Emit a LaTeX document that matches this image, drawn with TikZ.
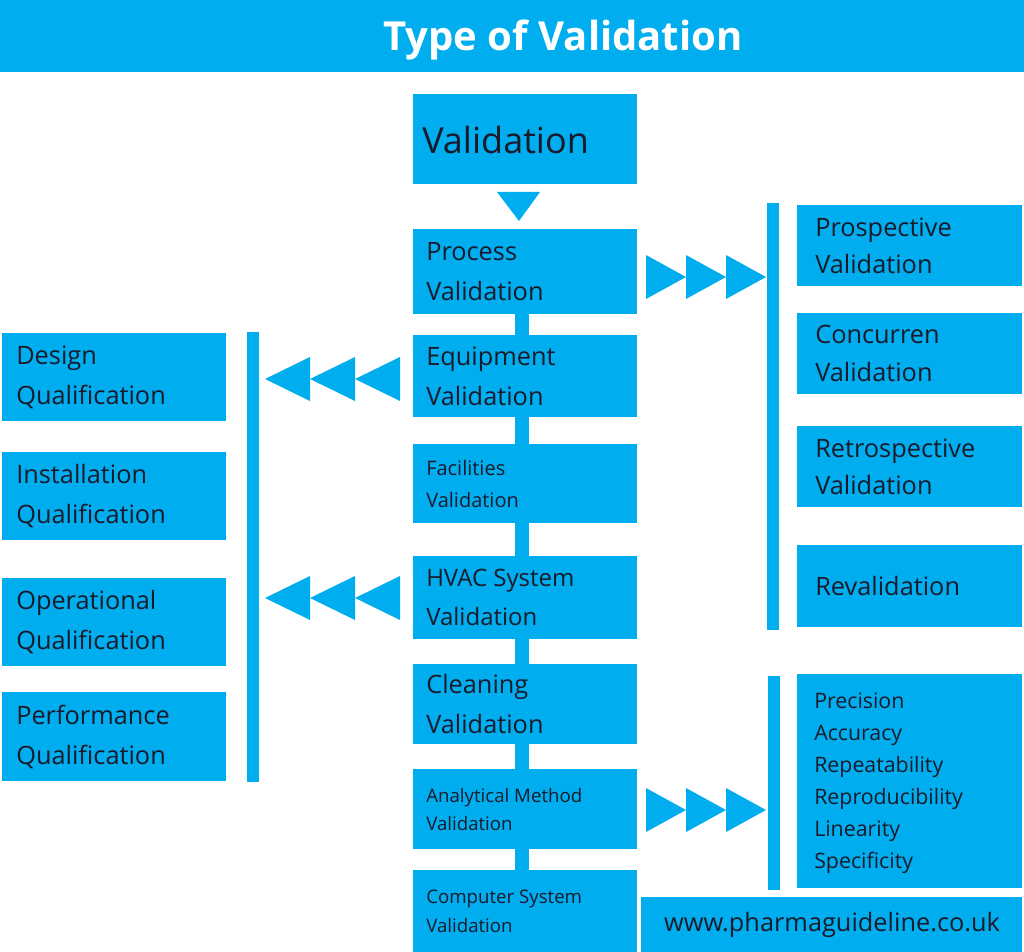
\documentclass[tikz,border=0pt]{standalone}
\usepackage{fontspec}
\setmainfont{Open Sans}
\begin{document}
\begin{tikzpicture}[x=0.75pt,y=-0.75pt,
  box/.style={fill=blu,draw=none},
  lbl/.style={anchor=west,align=left,text=txt,font=\fontsize{19}{23}\selectfont,inner sep=0pt},
  tri/.style={fill=blu,draw=none}]
\definecolor{blu}{HTML}{00AEEF}
\definecolor{txt}{HTML}{1A1A2A}
\useasboundingbox (0,0) rectangle (1024,952);
\fill[white] (0,0) rectangle (1024,952);
% title
\fill[box] (0,0) rectangle (1024,72);
\node[text=white,font=\bfseries\fontsize{30}{34}\selectfont] (title) at (563,40) {Type of Validation};
% spine
\fill[box] (515,300) rectangle (529,880);
% validation
\fill[box] (413,94) rectangle (637,184);
\node[lbl,font=\fontsize{27}{30}\selectfont] (val) at (422,140) {Validation};
\fill[tri] (497,192) -- (540,192) -- (519,221) -- cycle;
% center boxes
\foreach \a/\b/\t/\n/\s/\l in {229/314/{Process\\Validation}/pv/19/30,335/417/{Equipment\\Validation}/ev/19/30,444/523/{Facilities\\Validation}/fv/15/24,556/639/{HVAC System\\Validation}/hv/18/29,664/744/{Cleaning\\Validation}/cv/19/30,769/849/{Analytical Method\\Validation}/av/14/21,870/952/{Computer System\\Validation}/csv/14/22}{
  \fill[box] (413,\a) rectangle (637,\b);
  \node[lbl,font=\fontsize{\s}{\l}\selectfont] (\n) at (426,{(\a+\b)/2}) {\t};
}
% bars
\fill[box] (767,203) rectangle (779,630);
\fill[box] (768,676) rectangle (780,890);
\fill[box] (247,332) rectangle (259,782);
\foreach \a/\b/\t/\n in {205/286/{Prospective\\Validation}/r1,313/394/{Concurren\\Validation}/r2,426/507/{Retrospective\\Validation}/r3,545/627/{Revalidation}/r4}{
  \fill[box] (797,\a) rectangle (1022,\b);
  \node[lbl,font=\fontsize{19}{28}\selectfont] (\n) at (815,{(\a+\b)/2}) {\t};
}
\foreach \a/\b/\t/\n in {333/421/{Design\\Qualification}/l1,452/540/{Installation\\Qualification}/l2,578/666/{Operational\\Qualification}/l3,692/781/{Performance\\Qualification}/l4}{
  \fill[box] (2,\a) rectangle (226,\b);
  \node[lbl,font=\fontsize{19}{30}\selectfont] (\n) at (16,{(\a+\b)/2}) {\t};
}
\fill[box] (797,674) rectangle (1022,888);
\node[lbl,font=\fontsize{16}{24}\selectfont] (list) at (814,783) {Precision\\Accuracy\\Repeatability\\Reproducibility\\Linearity\\Specificity};
% arrows
\foreach \y in {277,810}{
 \foreach \x in {646,686,726}{
  \fill[tri] (\x,\y-22) -- (\x+40,\y) -- (\x,\y+22) -- cycle;}}
\foreach \y in {379,598}{
 \foreach \x in {400,355,310}{
  \fill[tri] (\x,\y-22) -- (\x-45,\y) -- (\x,\y+22) -- cycle;}}
% website
\fill[box] (641,897) rectangle (1022,952);
\node[text=txt,font=\fontsize{19}{22}\selectfont] (web) at (832,925) {www.pharmaguideline.co.uk};
\end{tikzpicture}
\end{document}
